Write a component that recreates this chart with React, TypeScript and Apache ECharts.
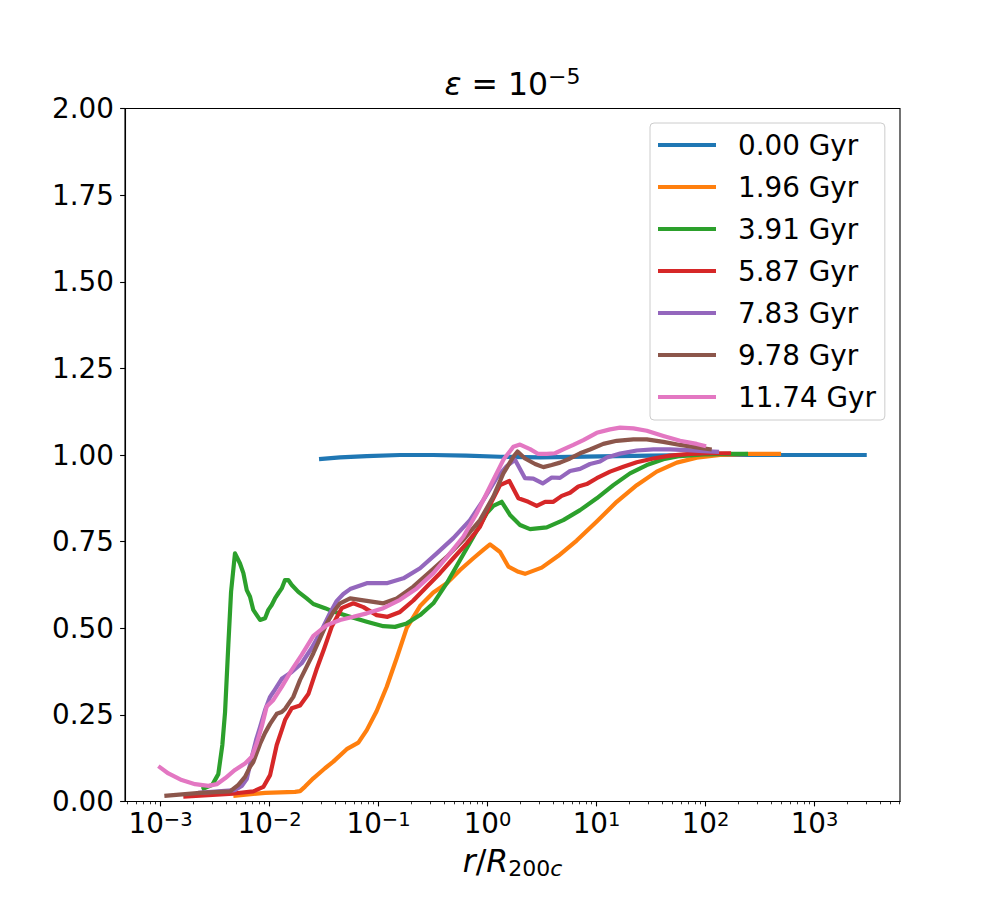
import React, { useEffect, useRef } from "react";
import * as echarts from "echarts";

const FONT = "DejaVu Sans";

const seriesNames = ["0.00 Gyr", "1.96 Gyr", "3.91 Gyr", "5.87 Gyr", "7.83 Gyr", "9.78 Gyr", "11.74 Gyr"];
const seriesColors = ["#1f77b4", "#ff7f0e", "#2ca02c", "#d62728", "#9467bd", "#8c564b", "#e377c2"];

// points as [log10(r / R200c), value]
const gyr000: [number, number][] = [
  [-1.546, 0.988], [-1.353, 0.993], [-1.108, 0.997], [-0.803, 1.0], [-0.5, 1.0], [-0.197, 0.998],
  [0.115, 0.995], [0.482, 0.993], [1.032, 0.996], [1.491, 0.998], [1.95, 1.0], [2.5, 1.0], [3.0, 1.0], [3.479, 1.0],
];
const gyr196: [number, number][] = [
  [-2.332, 0.016], [-2.041, 0.025], [-1.766, 0.028], [-1.72, 0.03], [-1.674, 0.043], [-1.598, 0.067], [-1.491, 0.096],
  [-1.415, 0.115], [-1.292, 0.151], [-1.185, 0.17], [-1.108, 0.206], [-1.017, 0.261], [-0.925, 0.331], [-0.833, 0.414],
  [-0.741, 0.501], [-0.619, 0.564], [-0.497, 0.603], [-0.374, 0.63], [-0.252, 0.668], [-0.13, 0.702], [-0.039, 0.726],
  [0.023, 0.742], [0.115, 0.72], [0.191, 0.678], [0.283, 0.663], [0.344, 0.657], [0.497, 0.675], [0.65, 0.709],
  [0.818, 0.753], [1.002, 0.808], [1.185, 0.865], [1.369, 0.913], [1.552, 0.952], [1.736, 0.978], [1.919, 0.992],
  [2.133, 1.0], [2.408, 1.003], [2.693, 1.003],
];
const gyr391: [number, number][] = [
  [-2.622, 0.035], [-2.525, 0.048], [-2.47, 0.079], [-2.433, 0.163], [-2.408, 0.258], [-2.378, 0.452], [-2.353, 0.605],
  [-2.317, 0.716], [-2.271, 0.687], [-2.24, 0.659], [-2.209, 0.61], [-2.179, 0.591], [-2.149, 0.553], [-2.117, 0.538],
  [-2.087, 0.524], [-2.041, 0.529], [-2.011, 0.553], [-1.98, 0.567], [-1.95, 0.586], [-1.919, 0.601], [-1.888, 0.615],
  [-1.858, 0.639], [-1.828, 0.639], [-1.796, 0.625], [-1.736, 0.605], [-1.659, 0.586], [-1.598, 0.57], [-1.491, 0.558],
  [-1.415, 0.548], [-1.261, 0.533], [-1.108, 0.519], [-0.956, 0.506], [-0.849, 0.504], [-0.741, 0.514], [-0.619, 0.538],
  [-0.497, 0.572], [-0.374, 0.63], [-0.252, 0.697], [-0.13, 0.764], [-0.007, 0.832], [0.053, 0.853], [0.13, 0.865],
  [0.206, 0.827], [0.298, 0.798], [0.39, 0.786], [0.543, 0.791], [0.695, 0.812], [0.849, 0.841], [1.002, 0.875],
  [1.154, 0.913], [1.307, 0.947], [1.461, 0.971], [1.613, 0.988], [1.766, 0.997], [1.98, 1.002], [2.225, 1.003], [2.39, 1.003],
];
const gyr587: [number, number][] = [
  [-2.791, 0.014], [-2.332, 0.023], [-2.149, 0.029], [-2.057, 0.042], [-1.995, 0.076], [-1.934, 0.163], [-1.888, 0.206],
  [-1.858, 0.235], [-1.796, 0.269], [-1.72, 0.277], [-1.644, 0.31], [-1.57, 0.38], [-1.5, 0.44], [-1.43, 0.504],
  [-1.338, 0.558], [-1.231, 0.572], [-1.139, 0.561], [-1.017, 0.538], [-0.917, 0.533], [-0.803, 0.547], [-0.681, 0.58],
  [-0.558, 0.62], [-0.436, 0.659], [-0.314, 0.702], [-0.191, 0.745], [-0.069, 0.793], [0.023, 0.856], [0.115, 0.913],
  [0.2, 0.925], [0.283, 0.875], [0.374, 0.865], [0.451, 0.853], [0.528, 0.865], [0.604, 0.865], [0.681, 0.882],
  [0.757, 0.891], [0.833, 0.909], [0.91, 0.916], [1.002, 0.933], [1.124, 0.952], [1.246, 0.966], [1.369, 0.979],
  [1.521, 0.99], [1.674, 0.998], [1.858, 1.003], [2.041, 1.005], [2.234, 1.005],
];
const gyr783: [number, number][] = [
  [-2.656, 0.025], [-2.317, 0.033], [-2.255, 0.045], [-2.209, 0.065], [-2.163, 0.128], [-2.124, 0.177], [-2.087, 0.215],
  [-2.041, 0.264], [-1.995, 0.302], [-1.965, 0.316], [-1.888, 0.354], [-1.796, 0.374], [-1.705, 0.399], [-1.613, 0.443],
  [-1.521, 0.495], [-1.445, 0.544], [-1.383, 0.579], [-1.323, 0.599], [-1.261, 0.613], [-1.108, 0.63], [-0.925, 0.63],
  [-0.772, 0.644], [-0.619, 0.673], [-0.466, 0.716], [-0.314, 0.76], [-0.161, 0.812], [-0.039, 0.87], [0.084, 0.934],
  [0.176, 0.968], [0.252, 0.986], [0.344, 0.933], [0.42, 0.932], [0.506, 0.918], [0.589, 0.935], [0.665, 0.934],
  [0.757, 0.954], [0.849, 0.96], [0.94, 0.974], [1.032, 0.981], [1.094, 0.993], [1.216, 1.004], [1.369, 1.013],
  [1.521, 1.016], [1.674, 1.016], [1.828, 1.014], [1.98, 1.011], [2.124, 1.009],
];
const gyr978: [number, number][] = [
  [-2.965, 0.016], [-2.638, 0.025], [-2.362, 0.029], [-2.286, 0.048], [-2.225, 0.071], [-2.179, 0.1], [-2.149, 0.114],
  [-2.087, 0.166], [-2.041, 0.198], [-1.995, 0.224], [-1.934, 0.253], [-1.888, 0.258], [-1.858, 0.267], [-1.782, 0.302],
  [-1.72, 0.351], [-1.598, 0.428], [-1.475, 0.514], [-1.415, 0.547], [-1.353, 0.572], [-1.261, 0.586], [-1.108, 0.579],
  [-0.956, 0.572], [-0.833, 0.586], [-0.681, 0.62], [-0.528, 0.663], [-0.374, 0.706], [-0.222, 0.755], [-0.069, 0.812],
  [0.053, 0.88], [0.145, 0.947], [0.237, 0.995], [0.275, 1.01], [0.344, 0.99], [0.436, 0.974], [0.512, 0.965],
  [0.589, 0.971], [0.665, 0.978], [0.757, 0.99], [0.849, 1.005], [0.94, 1.016], [1.062, 1.032], [1.185, 1.041],
  [1.338, 1.045], [1.461, 1.045], [1.613, 1.038], [1.766, 1.029], [1.919, 1.022], [2.057, 1.016],
];
const gyr1174: [number, number][] = [
  [-3.02, 0.102], [-2.928, 0.081], [-2.806, 0.062], [-2.683, 0.05], [-2.561, 0.045], [-2.484, 0.05], [-2.408, 0.067],
  [-2.317, 0.091], [-2.225, 0.11], [-2.163, 0.129], [-2.117, 0.168], [-2.072, 0.216], [-2.026, 0.274], [-1.965, 0.293],
  [-1.888, 0.331], [-1.796, 0.38], [-1.705, 0.423], [-1.598, 0.478], [-1.475, 0.509], [-1.353, 0.524], [-1.231, 0.533],
  [-1.108, 0.543], [-0.956, 0.558], [-0.803, 0.582], [-0.65, 0.615], [-0.497, 0.659], [-0.344, 0.716], [-0.222, 0.764],
  [-0.099, 0.832], [0.023, 0.909], [0.145, 0.986], [0.237, 1.024], [0.298, 1.03], [0.39, 1.017], [0.466, 1.003],
  [0.543, 1.003], [0.619, 1.005], [0.695, 1.016], [0.787, 1.029], [0.879, 1.043], [1.002, 1.064], [1.124, 1.074],
  [1.216, 1.079], [1.338, 1.077], [1.461, 1.07], [1.613, 1.055], [1.766, 1.041], [1.919, 1.032], [2.005, 1.025],
];

const seriesPoints = [gyr000, gyr196, gyr391, gyr587, gyr783, gyr978, gyr1174];

const xTickExponents = [-3, -2, -1, 0, 1, 2, 3];
const minorMultipliers = [2, 3, 4, 5, 6, 7, 8, 9];
const yTickStep = 0.25;
const titleExponent = "−5";

const X_MIN = -3.326;
const X_MAX = 3.784;

const minorTicks: number[] = [];
for (let n = -4; n <= 3; n++) {
  for (const k of minorMultipliers) {
    const v = n + Math.log10(k);
    if (v > X_MIN && v < X_MAX) minorTicks.push(v);
  }
}

const supText = (e: number) => (e < 0 ? "−" + Math.abs(e) : String(e));

const option: any = {
  animation: false,
  backgroundColor: "#ffffff",
  grid: {
    left: 125,
    top: 108.5,
    width: 775,
    height: 693,
    show: true,
    borderColor: "#000",
    borderWidth: 1.1,
    backgroundColor: "transparent",
    containLabel: false,
  },
  legend: {
    data: seriesNames,
    orient: "vertical",
    left: 650,
    top: 123,
    padding: [7, 9, 8, 8],
    itemWidth: 58,
    itemHeight: 4,
    itemGap: 12,
    icon: "rect",
    selectedMode: false,
    borderColor: "#cccccc",
    borderWidth: 1,
    borderRadius: 4,
    backgroundColor: "rgba(255,255,255,0.8)",
    textStyle: {
      fontFamily: FONT,
      fontSize: 27.8,
      color: "#000",
      lineHeight: 30,
      padding: [0, 0, 0, 17],
    },
  },
  xAxis: [
    {
      type: "value",
      min: X_MIN,
      max: X_MAX,
      position: "bottom",
      axisLine: { show: true, onZero: false, lineStyle: { color: "#000", width: 1.1 } },
      axisTick: { show: true, customValues: xTickExponents, length: 4.9, lineStyle: { color: "#000", width: 1.1 } },
      axisLabel: {
        show: true,
        customValues: xTickExponents,
        margin: 8,
        formatter: (v: number) => `{b|10}{s|${supText(Math.round(v))}}`,
        rich: {
          b: { fontFamily: FONT, fontSize: 27.8, color: "#000", lineHeight: 28 },
          s: { fontFamily: FONT, fontSize: 19.5, color: "#000", lineHeight: 20, verticalAlign: "top" },
        },
      },
      splitLine: { show: false },
      name: "{i|r}{n|/}{i|R}{sn|200}{si|c}",
      nameLocation: "middle",
      nameGap: 41,
      nameTextStyle: {
        rich: {
          i: { fontFamily: FONT, fontSize: 31.5, fontStyle: "italic", color: "#000", lineHeight: 37 },
          n: { fontFamily: FONT, fontSize: 31.5, color: "#000", lineHeight: 37 },
          sn: { fontFamily: FONT, fontSize: 22, color: "#000", lineHeight: 16, verticalAlign: "bottom" },
          si: { fontFamily: FONT, fontSize: 22, fontStyle: "italic", color: "#000", lineHeight: 16, verticalAlign: "bottom" },
        },
      },
    },
    {
      type: "value",
      min: X_MIN,
      max: X_MAX,
      position: "bottom",
      axisLine: { show: false },
      axisTick: { show: true, customValues: minorTicks, length: 2.8, lineStyle: { color: "#000", width: 0.8 } },
      axisLabel: { show: false },
      splitLine: { show: false },
    },
    {
      type: "value",
      min: X_MIN,
      max: X_MAX,
      position: "top",
      axisLine: { show: false },
      axisTick: { show: false },
      axisLabel: { show: false },
      splitLine: { show: false },
      name: `{e|ε}{n| = 10}{s|${titleExponent}}`,
      nameLocation: "middle",
      nameGap: 6,
      nameTextStyle: {
        rich: {
          e: { fontFamily: FONT, fontSize: 31.5, fontStyle: "italic", color: "#000", lineHeight: 37 },
          n: { fontFamily: FONT, fontSize: 31.5, color: "#000", lineHeight: 37 },
          s: { fontFamily: FONT, fontSize: 22, color: "#000", lineHeight: 15, verticalAlign: "top" },
        },
      },
    },
  ],
  yAxis: {
    type: "value",
    min: 0,
    max: 2,
    interval: yTickStep,
    axisLine: { show: true, onZero: false, lineStyle: { color: "#000", width: 1.1 } },
    axisTick: { show: true, length: 4.9, lineStyle: { color: "#000", width: 1.1 } },
    axisLabel: {
      margin: 11,
      formatter: (v: number) => v.toFixed(2),
      fontFamily: FONT,
      fontSize: 27.8,
      color: "#000",
    },
    splitLine: { show: false },
  },
  series: seriesPoints.map((pts, i) => ({
    name: seriesNames[i],
    type: "line",
    xAxisIndex: 0,
    yAxisIndex: 0,
    data: pts,
    showSymbol: false,
    symbol: "none",
    silent: true,
    clip: true,
    z: 2 + i,
    color: seriesColors[i],
    lineStyle: { color: seriesColors[i], width: 4.2, cap: "butt", join: "round" },
    emphasis: { disabled: true },
  })),
};

export default function App() {
  const ref = useRef<HTMLDivElement>(null);
  useEffect(() => {
    if (!ref.current) return;
    const chart = echarts.init(ref.current, undefined, { renderer: "svg" });
    chart.setOption(option);
    return () => chart.dispose();
  }, []);
  return (
    <div
      ref={ref}
      style={{ position: "absolute", left: 0, top: 0, width: 1000, height: 900, background: "#fff" }}
    />
  );
}
